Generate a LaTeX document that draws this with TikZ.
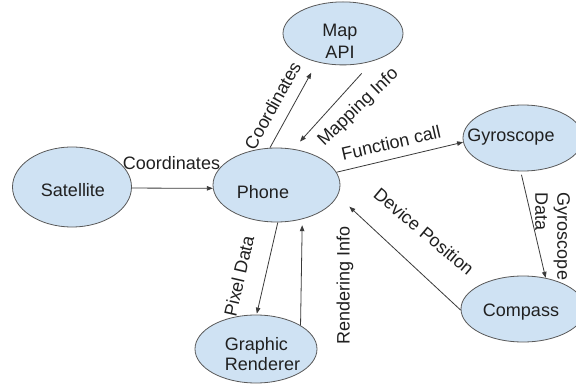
\documentclass[tikz,border=0pt]{standalone}
\usepackage{fontspec}
\setmainfont{Liberation Sans}
\usetikzlibrary{shapes.geometric,arrows.meta}
\definecolor{ellfill}{HTML}{CFE2F3}
\definecolor{ellline}{HTML}{595959}
\definecolor{lnk}{HTML}{3A3A3A}
\definecolor{txtc}{HTML}{202020}
\begin{document}
\begin{tikzpicture}[x=1pt,y=-1pt,
  ell/.style={ellipse, draw=ellline, line width=0.8pt, fill=ellfill, inner sep=0pt},
  lbl/.style={font=\fontsize{18}{22}\selectfont, text=txtc, inner sep=0pt},
  conn/.style={draw=lnk, line width=0.8pt, -{Triangle[length=6pt,width=4.5pt]}},
]
\useasboundingbox (0,0) rectangle (576,385);
\fill[white] (0,0) rectangle (576,385);

\node[ell, minimum width=119pt, minimum height=80pt,
  label={[lbl, xshift=1pt, yshift=-3pt]center:Satellite}] (sat) at (72,187) {};
\node[ell, minimum width=127pt, minimum height=74pt,
  label={[lbl, xshift=-13.5pt, yshift=-7pt]center:Phone}] (phone) at (276.5,185) {};
\node[ell, minimum width=120pt, minimum height=63pt,
  label={[lbl, align=center, font=\fontsize{18}{22.6}\selectfont, xshift=-3pt, yshift=-8pt]center:{Map\\API}}] (map) at (343,33.4) {};
\node[ell, minimum width=120pt, minimum height=66pt,
  label={[lbl, xshift=-12pt, yshift=1pt]center:Gyroscope}] (gyro) at (523,138) {};
\node[ell, minimum width=124pt, minimum height=66pt,
  label={[lbl, xshift=-2pt, yshift=-3pt]center:Compass}] (comp) at (523,309) {};
\node[ell, minimum width=122pt, minimum height=68pt,
  label={[lbl, align=left, font=\fontsize{18}{20.7}\selectfont, xshift=6.5pt, yshift=-5pt]center:{Graphic\\Renderer}}] (rend) at (256,349) {};

\draw[conn] (sat.-1) -- (phone.183);
\draw[conn, shorten >=12pt] (phone.100) -- (map.228);
\draw[conn, shorten <=16.5pt, shorten >=10pt] (map.-43) -- (phone.65);
\draw[conn] (phone.12) -- (gyro.184);
\draw[conn, shorten <=3.5pt] (gyro.-94) -- (comp.54);
\draw[conn, shorten >=16pt] (comp.181) -- (phone.-10);
\draw[conn, shorten >=1pt] (phone.-88) -- (rend.89);
\draw[conn, shorten >=6pt] (rend.28) -- (phone.-53);

\node[lbl] (l1) at (171.5,163.5) {Coordinates};
\node[lbl, rotate=61] (l2) at (272.5,105.5) {Coordinates};
\node[lbl, rotate=44] (l3) at (358.5,107.5) {Mapping Info};
\node[lbl, rotate=13] (l4) at (391,143) {Function call};
\node[lbl, rotate=-90, align=left] (l5) at (552.5,236.5) {Gyroscope\\Data};
\node[lbl, rotate=-40] (l6) at (424,231.5) {Device Position};
\node[lbl, rotate=77] (l7) at (239,276) {Pixel Data};
\node[lbl, rotate=90] (l8) at (345,285) {Rendering Info};
\end{tikzpicture}
\end{document}
